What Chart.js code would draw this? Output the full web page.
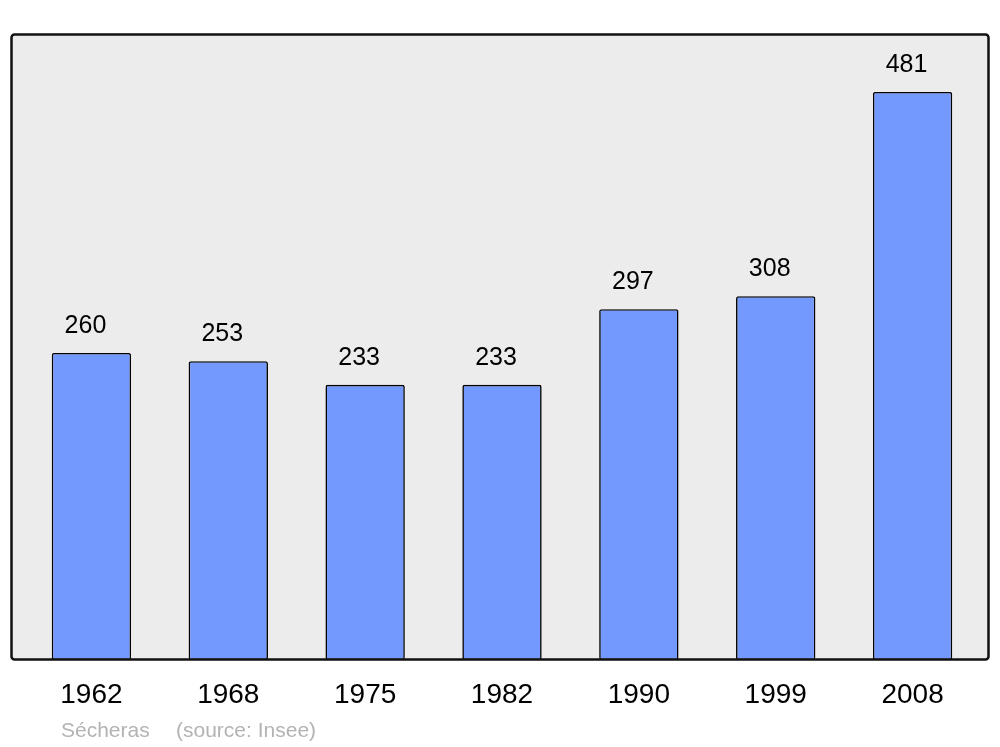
<!DOCTYPE html>
<html>
<head>
<meta charset="utf-8">
<script src="https://cdn.jsdelivr.net/npm/chart.js@4/dist/chart.umd.min.js"></script>
<style>
  body { margin: 0; background: #fff; }
  #wrap { position: relative; width: 1000px; height: 747px; }
  .foot { position: absolute; top: 718px; font: 21px "Liberation Sans", Arial, sans-serif; color: #b3b3b3; white-space: nowrap; }
</style>
</head>
<body>
<div id="wrap">
  <canvas id="popChart" width="1000" height="747"></canvas>
  <span class="foot" style="left:61px">Sécheras</span>
  <span class="foot" style="left:176px">(source: Insee)</span>
</div>
<script>
// Population by census year
const years = ['1962', '1968', '1975', '1982', '1990', '1999', '2008'];
const population = [260, 253, 233, 233, 297, 308, 481];
const yMax = 530;

// grey panel behind the bars, outline drawn on top
const panel = {
    id: 'panel',
    beforeDatasetsDraw(chart) {
        const c = chart.ctx;
        c.save();
        c.beginPath();
        c.roundRect(11.5, 34.5, 977, 625, 3);
        c.fillStyle = '#ececec';
        c.fill();
        c.restore();
    },
    afterDatasetsDraw(chart) {
        const c = chart.ctx;
        c.save();
        c.beginPath();
        c.roundRect(11.5, 34.5, 977, 625, 3);
        c.lineWidth = 2.5;
        c.strokeStyle = '#111';
        c.stroke();

        // value labels above bars (sit a little left of centre, as in the source)
        const meta = chart.getDatasetMeta(0);
        c.font = '25px "Liberation Sans", Arial, sans-serif';
        c.fillStyle = '#000';
        c.textAlign = 'center';
        c.textBaseline = 'middle';
        meta.data.forEach((bar, i) => {
            c.fillText(String(population[i]), bar.x - 6, bar.y - 27);
        });
        c.restore();
    }
};

const ctx = document.getElementById('popChart').getContext('2d');
new Chart(ctx, {
    type: 'bar',
    data: {
        labels: years,
        datasets: [{
            data: population,
            backgroundColor: '#7399ff',
            borderColor: '#000',
            borderWidth: 1.6,
            borderRadius: 2,
            borderSkipped: false,
            barPercentage: 0.58,
            categoryPercentage: 1
        }]
    },
    options: {
        responsive: false,
        animation: false,
        layout: {
            padding: { left: 23, right: 19, top: 34, bottom: 0 }
        },
        scales: {
            x: {
                grid: { display: false, drawTicks: false },
                border: { display: false },
                ticks: {
                    padding: 18,
                    color: '#000',
                    font: { size: 28, family: '"Liberation Sans", Arial, sans-serif' }
                },
                afterFit(scale) { scale.height = 87; }
            },
            y: {
                display: false,
                min: 0,
                max: yMax
            }
        },
        plugins: {
            legend: { display: false },
            tooltip: { enabled: false }
        }
    },
    plugins: [panel]
});
</script>
</body>
</html>
